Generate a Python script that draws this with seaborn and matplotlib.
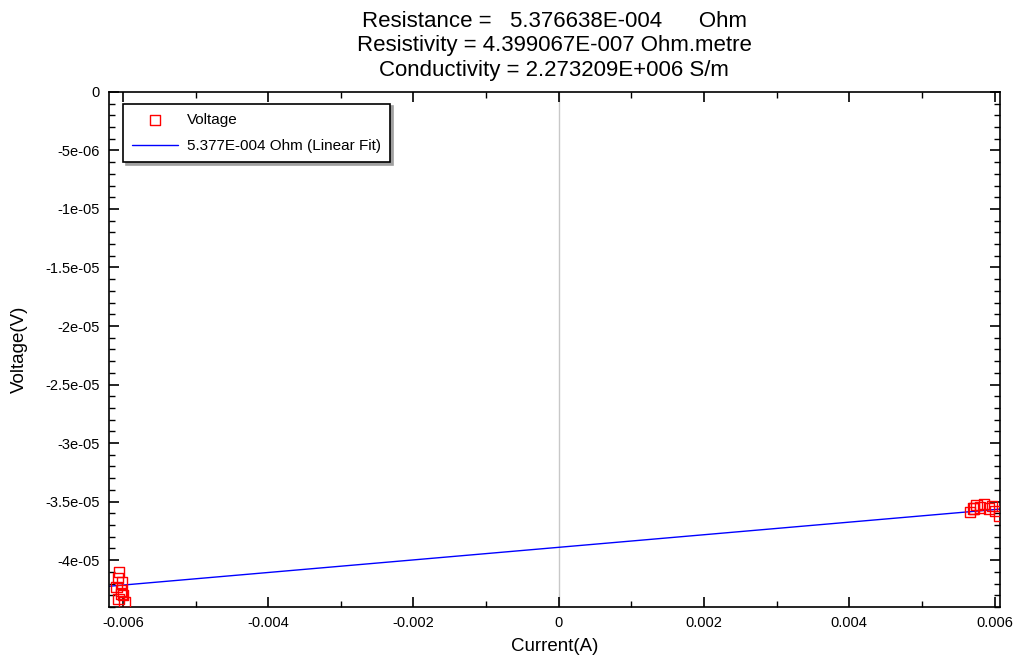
import numpy as np
import pandas as pd
import matplotlib
matplotlib.use("Agg")
import matplotlib.pyplot as plt
import seaborn as sns
from matplotlib.ticker import MultipleLocator, AutoMinorLocator, FuncFormatter

# ---- data ----
current_a = [-0.00605, -0.00607, -0.00601, -0.00609, -0.00603, -0.00600, -0.00606, -0.00598, -0.00602,
             0.00566, 0.00570, 0.00575, 0.00580, 0.00586, 0.00592, 0.00597, 0.00601, 0.00606, 0.00572]
voltage_v = [-41.0e-6, -41.5e-6, -41.9e-6, -42.3e-6, -42.6e-6, -43.0e-6, -43.3e-6, -43.6e-6, -42.9e-6,
             -35.9e-6, -35.6e-6, -35.3e-6, -35.5e-6, -35.2e-6, -35.6e-6, -35.4e-6, -35.8e-6, -36.2e-6, -35.6e-6]
fit_current = [-0.00619, 0.00607]
fit_voltage = [-42.23e-6, -35.64e-6]

title_lines = ["Resistance =   5.376638E-004      Ohm",
               "Resistivity = 4.399067E-007 Ohm.metre",
               "Conductivity = 2.273209E+006 S/m"]

sns.set_theme(style="white")
plt.rcParams['font.family'] = ['Liberation Sans', 'DejaVu Sans']
plt.rcParams.update({"text.color": "black", "axes.labelcolor": "black",
                     "xtick.color": "black", "ytick.color": "black"})

fig, ax = plt.subplots(figsize=(10.2, 6.56), dpi=100)
fig.subplots_adjust(left=0.107, right=0.980, top=0.860, bottom=0.0747)

ax.axvline(0, color="#c8c8c8", lw=1, zorder=0)

pts = pd.DataFrame({"Current": current_a, "Voltage": voltage_v})
fit = pd.DataFrame({"Current": fit_current, "Voltage": fit_voltage})

sns.scatterplot(data=pts, x="Current", y="Voltage", marker="s", s=55,
                facecolor="none", edgecolor="red", linewidth=1.0,
                label="Voltage", ax=ax, zorder=3)
sns.lineplot(data=fit, x="Current", y="Voltage", color="blue", lw=1.0,
             label="5.377E-004 Ohm (Linear Fit)", ax=ax, zorder=2)

ax.set_xlim(-0.00619, 0.00607)
ax.set_ylim(-4.40e-05, 0)
ax.xaxis.set_major_locator(MultipleLocator(0.002))
ax.xaxis.set_minor_locator(AutoMinorLocator(2))
ax.yaxis.set_major_locator(MultipleLocator(5e-06))
ax.yaxis.set_minor_locator(AutoMinorLocator(5))
fmt = FuncFormatter(lambda v, p: "0" if abs(v) < 1e-12 else "%g" % v)
ax.xaxis.set_major_formatter(fmt)
ax.yaxis.set_major_formatter(fmt)
ax.tick_params(which="both", direction="in", top=True, right=True, bottom=True, left=True,
               color="black", labelsize=10.5)
ax.tick_params(which="major", length=7, width=1.2)
ax.tick_params(which="minor", length=4, width=1)
ax.tick_params(axis="x", which="major", pad=6.5)
ax.tick_params(axis="y", which="major", pad=7)
for s in ax.spines.values():
    s.set_color("black")
    s.set_linewidth(1.2)

ax.set_xlabel("Current(A)", fontsize=13.5, labelpad=6)
ax.set_ylabel("Voltage(V)", fontsize=13.5, labelpad=12)
ax.set_title("\n".join(title_lines), fontsize=16, linespacing=1.22, pad=11.5)

leg = ax.legend(loc="upper left", bbox_to_anchor=(0.0157, 0.977), borderaxespad=0,
                frameon=True, fancybox=False,
                shadow={"color": "#a0a0a0", "alpha": 1.0}, fontsize=11, handlelength=3,
                handletextpad=0.6, borderpad=0.6, labelspacing=0.8)
leg.get_frame().set_edgecolor("black")
leg.get_frame().set_linewidth(1.2)
leg.get_frame().set_facecolor("white")

fig.savefig("out.png", dpi=100)
